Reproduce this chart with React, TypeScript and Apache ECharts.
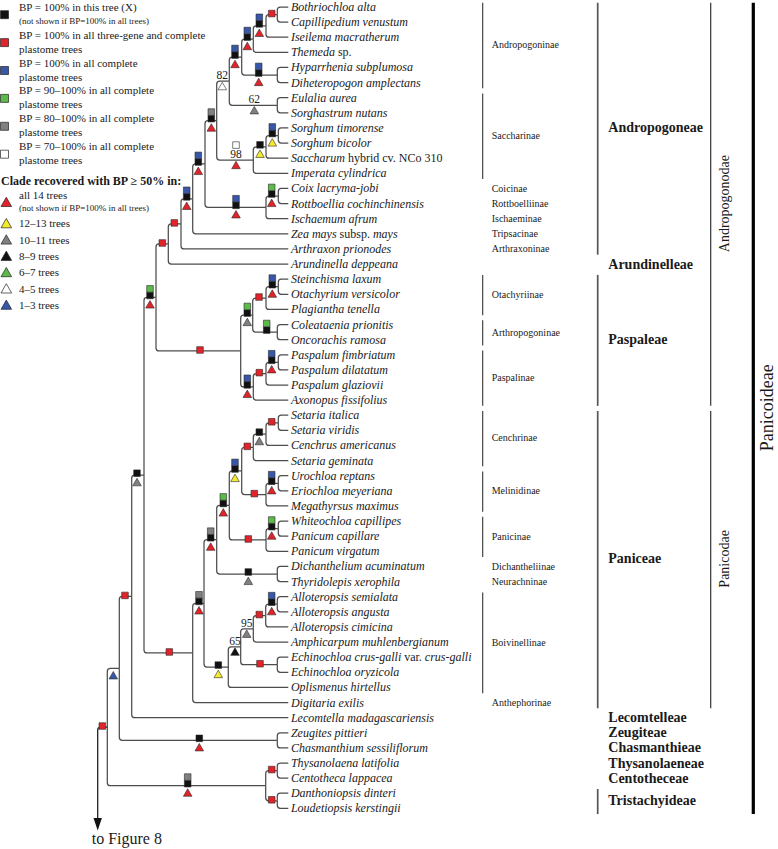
import React, { useEffect, useRef } from 'react';
import * as echarts from 'echarts';

// ---------- data ----------
// leaf names; text between ^ ^ is set upright, the rest italic
const leafNames: string[] = [
  'Bothriochloa alta', 'Capillipedium venustum', 'Iseilema macratherum', 'Themeda ^sp.^',
  'Hyparrhenia subplumosa', 'Diheteropogon amplectans', 'Eulalia aurea', 'Sorghastrum nutans',
  'Sorghum timorense', 'Sorghum bicolor', 'Saccharum ^hybrid cv. NCo 310^', 'Imperata cylindrica',
  'Coix lacryma-jobi', 'Rottboellia cochinchinensis', 'Ischaemum afrum', 'Zea mays ^subsp.^ mays',
  'Arthraxon prionodes', 'Arundinella deppeana', 'Steinchisma laxum', 'Otachyrium versicolor',
  'Plagiantha tenella', 'Coleataenia prionitis', 'Oncorachis ramosa', 'Paspalum fimbriatum',
  'Paspalum dilatatum', 'Paspalum glaziovii', 'Axonopus fissifolius', 'Setaria italica',
  'Setaria viridis', 'Cenchrus americanus', 'Setaria geminata', 'Urochloa reptans',
  'Eriochloa meyeriana', 'Megathyrsus maximus', 'Whiteochloa capillipes', 'Panicum capillare',
  'Panicum virgatum', 'Dichanthelium acuminatum', 'Thyridolepis xerophila', 'Alloteropsis semialata',
  'Alloteropsis angusta', 'Alloteropsis cimicina', 'Amphicarpum muhlenbergianum',
  'Echinochloa crus-galli ^var.^ crus-galli', 'Echinochloa oryzicola', 'Oplismenus hirtellus',
  'Digitaria exilis', 'Lecomtella madagascariensis', 'Zeugites pittieri', 'Chasmanthium sessiliflorum',
  'Thysanolaena latifolia', 'Centotheca lappacea', 'Danthoniopsis dinteri', 'Loudetiopsis kerstingii',
];

type Kid = number | string;
// id, children, node depth (x), marker x on branch, squares (top -> bottom), triangle, BP label
const clades: [string, Kid[], number, number, string, string, string][] = [
  ['BC', [0, 1], 277.3, 271.7, 'R', '', ''],
  ['BCI', ['BC', 2], 266, 259.3, 'BK', 'R', ''],
  ['BCIT', ['BCI', 3], 253.3, 247.3, 'BK', 'R', ''],
  ['HD', [4, 5], 277.3, 258.7, 'BK', 'R', ''],
  ['Andro', ['BCIT', 'HD'], 241.7, 235, 'BK', 'R', ''],
  ['ES', [6, 7], 277.3, 254.3, '', 'A', '62'],
  ['AE', ['Andro', 'ES'], 229.3, 222.3, '', 'W', '82'],
  ['SS', [8, 9], 278.3, 272.3, 'BK', 'Y', ''],
  ['SSS', ['SS', 10], 266, 260, 'K', 'Y', ''],
  ['SSI', ['SSS', 11], 253.3, 236, 'W', 'R', '98'],
  ['AS', ['AE', 'SSI'], 216.7, 211.3, 'AK', 'R', ''],
  ['CR', [12, 13], 278.3, 271.7, 'GK', 'R', ''],
  ['CRI', ['CR', 14], 266, 236, 'BK', 'R', ''],
  ['ASC', ['AS', 'CRI'], 205, 198.3, 'BK', 'R', ''],
  ['Z', ['ASC', 15], 192.7, 186.7, 'BK', 'R', ''],
  ['Ar', ['Z', 16], 181, 174.3, 'R', '', ''],
  ['Aru', ['Ar', 17], 168.3, 162.3, 'R', '', ''],
  ['SO', [18, 19], 278.3, 272.3, 'BK', 'R', ''],
  ['SOP', ['SO', 20], 266, 259, 'R', '', ''],
  ['CO', [21, 22], 277.3, 266.7, 'GK', '', ''],
  ['OA', ['SOP', 'CO'], 252.7, 247.3, 'GK', 'A', ''],
  ['PP', [23, 24], 278.3, 271.7, 'BK', 'R', ''],
  ['PPG', ['PP', 25], 266, 259.3, 'R', '', ''],
  ['PPA', ['PPG', 26], 253.3, 247.3, 'BK', 'R', ''],
  ['Pas', ['OA', 'PPA'], 240.7, 200, 'R', '', ''],
  ['Adae', ['Aru', 'Pas'], 156, 150, 'GK', 'R', ''],
  ['SV', [27, 28], 278.3, 271.7, 'R', '', ''],
  ['SVC', ['SV', 29], 266, 259.3, 'K', 'A', ''],
  ['SVG', ['SVC', 30], 253.3, 247.3, 'R', '', ''],
  ['UE', [31, 32], 278.3, 271.7, 'BK', 'R', ''],
  ['UEM', ['UE', 33], 266, 254.3, 'R', '', ''],
  ['CM', ['SVG', 'UEM'], 241.7, 235, 'BK', 'Y', ''],
  ['WP', [34, 35], 278.3, 271.7, 'GK', 'R', ''],
  ['WPV', ['WP', 36], 266, 248.3, 'R', '', ''],
  ['CMP', ['CM', 'WPV'], 229.3, 223.3, 'GK', 'R', ''],
  ['DT', [37, 38], 277.3, 248.3, 'K', 'A', ''],
  ['CMPD', ['CMP', 'DT'], 216.7, 210.7, 'AK', 'R', ''],
  ['AA', [39, 40], 277.3, 271.7, 'BK', 'R', ''],
  ['AAC', ['AA', 41], 265.7, 259.3, 'R', '', ''],
  ['AACM', ['AAC', 42], 253.3, 246.7, '', 'A', '95'],
  ['EE', [43, 44], 277.3, 260, 'R', '', ''],
  ['AE65', ['AACM', 'EE'], 240.7, 235, '', 'K', '65'],
  ['Boiv', ['AE65', 45], 228.3, 218.3, 'K', 'Y', ''],
  ['Pcore', ['CMPD', 'Boiv'], 204, 199, 'AK', 'R', ''],
  ['Pan', ['Pcore', 46], 192.7, 169.3, 'R', '', ''],
  ['PA', ['Adae', 'Pan'], 144, 137, 'K', 'A', ''],
  ['Lec', ['PA', 47], 131.7, 125, 'R', '', ''],
  ['ZC', [48, 49], 277.3, 199.3, 'K', 'R', ''],
  ['Zeu', ['Lec', 'ZC'], 119.3, 113.3, '', 'B', ''],
  ['TC', [50, 51], 277.3, 271.7, 'R', '', ''],
  ['DL', [52, 53], 277.3, 271.7, 'R', '', ''],
  ['Tris', ['TC', 'DL'], 265.7, 187.7, 'AK', 'R', ''],
  ['root', ['Zeu', 'Tris'], 107.3, 102.3, 'R', '', ''],
];
const tipX = 288.3;
const rootStemX = 97.7;
const rootStemEnd = 54.46; // in leaf units

const subtribes: [string, number, number][] = [
  ['Andropogoninae', 0, 5], ['Saccharinae', 6, 11], ['Coicinae', 12, 12], ['Rottboelliinae', 13, 13],
  ['Ischaeminae', 14, 14], ['Tripsacinae', 15, 15], ['Arthraxoninae', 16, 16],
  ['Otachyriinae', 18, 20], ['Arthropogoninae', 21, 22], ['Paspalinae', 23, 26],
  ['Cenchrinae', 27, 30], ['Melinidinae', 31, 33], ['Panicinae', 34, 36], ['Dichantheliinae', 37, 37],
  ['Neurachninae', 38, 38], ['Boivinellinae', 39, 45], ['Anthephorinae', 46, 46],
];
const tribes: [string, number, number][] = [
  ['Andropogoneae', 0, 16], ['Arundinelleae', 17, 17], ['Paspaleae', 18, 26], ['Paniceae', 27, 46],
  ['Lecomtelleae', 47, 47], ['Zeugiteae', 48, 48], ['Chasmanthieae', 49, 49], ['Thysanolaeneae', 50, 50],
  ['Centotheceae', 51, 51], ['Tristachyideae', 52, 53],
];
const supertribes: [string, number, number][] = [['Andropogonodae', 0, 26], ['Panicodae', 27, 46]];
const subfamilies: [string, number, number][] = [['Panicoideae', 0, 53]];

const squareLegend: [string, string, string, boolean][] = [
  ['K', 'BP = 100% in this tree (X)', '(not shown if BP=100% in all trees)', true],
  ['R', 'BP = 100% in all three-gene and complete', 'plastome trees', false],
  ['B', 'BP = 100% in all complete', 'plastome trees', false],
  ['G', 'BP = 90–100% in all complete', 'plastome trees', false],
  ['A', 'BP = 80–100% in all complete', 'plastome trees', false],
  ['W', 'BP = 70–100% in all complete', 'plastome trees', false],
];
const triangleLegendTitle = 'Clade recovered with BP ≥ 50% in:';
const triangleLegend: [string, string][] = [
  ['R', 'all 14 trees'], ['Y', '12–13 trees'], ['A', '10–11 trees'], ['K', '8–9 trees'],
  ['G', '6–7 trees'], ['W', '4–5 trees'], ['B', '1–3 trees'],
];

// ---------- styles ----------
const SERIF = '"Liberation Serif", "Times New Roman", serif';
const colorOf: Record<string, string> = {
  R: '#e2232a', B: '#3957a8', G: '#5cb94a', A: '#808080', K: '#111111', W: '#ffffff', Y: '#f6ea2c',
};
const LINE = '#4d4d4d';

// ---------- layout ----------
const cladeById = new Map(clades.map((c) => [c[0], c]));
const nodeY: Record<string, number> = {};
function yOf(k: Kid): number {
  if (typeof k === 'number') return k;
  if (nodeY[k] != null) return nodeY[k];
  const c = cladeById.get(k)!;
  const ys = c[1].map(yOf);
  const v = (ys[0] + ys[ys.length - 1]) / 2;
  nodeY[k] = v;
  return v;
}
function xOf(k: Kid): number {
  return typeof k === 'number' ? tipX : cladeById.get(k)![2];
}
const edges: number[][] = [];
clades.forEach((c) => {
  const py = yOf(c[0]);
  c[1].forEach((k) => edges.push([xOf(k), yOf(k), c[2], py]));
});
const rootClade = cladeById.get('root')!;

function richName(name: string) {
  return name
    .split('^')
    .map((p, i) => (p ? `{${i % 2 ? 'r' : 'i'}|${p}}` : ''))
    .join('');
}

function txt(x: number, y: number, text: string, font: string, align = 'left', extra: any = {}) {
  return {
    type: 'text',
    x,
    y,
    ...extra,
    style: {
      text,
      font,
      fill: '#1a1a1a',
      align,
      verticalAlign: 'middle',
      textAlign: align,
      textVerticalAlign: 'middle',
    },
  };
}

function buildLegend() {
  const els: any[] = [];
  squareLegend.forEach((it, k) => {
    els.push({
      type: 'rect',
      shape: { x: 0.5, y: 10.7 + 27.9 * k, width: 8, height: 8 },
      style: { fill: colorOf[it[0]], stroke: '#222', lineWidth: 0.7 },
    });
    els.push(txt(19, 7 + 27.8 * k, it[1], `11px ${SERIF}`));
    els.push(txt(19, 21 + 27.8 * k, it[2], `${it[3] ? 9 : 11}px ${SERIF}`));
  });
  els.push(txt(1, 180.7, triangleLegendTitle, `bold 12px ${SERIF}`));
  triangleLegend.forEach((it, k) => {
    const cy = k === 0 ? 202 : 223.3 + 16.3 * (k - 1);
    els.push({
      type: 'polygon',
      shape: { points: [[6.3, cy - 4.8], [11.6, cy + 4.5], [1, cy + 4.5]] },
      style: { fill: colorOf[it[0]], stroke: '#222', lineWidth: 0.7 },
    });
    els.push(txt(19, k === 0 ? 195 : cy, it[1], `11px ${SERIF}`));
    if (k === 0) els.push(txt(19, 207.7, '(not shown if BP=100% in all trees)', `9px ${SERIF}`));
  });
  return els;
}

function bracketSeries(
  list: [string, number, number][],
  barX: number,
  labelX: number,
  barStyle: any,
  font: string,
  rotated: boolean,
) {
  return {
    type: 'custom',
    coordinateSystem: 'cartesian2d',
    silent: true,
    z: 2,
    data: list.map((s) => [barX, s[1], s[2]]),
    renderItem: (params: any, api: any) => {
      const item = list[params.dataIndex];
      const first = api.value(1);
      const last = api.value(2);
      const els: any[] = [];
      const a = api.coord([barX, first - 0.28]);
      const b = api.coord([barX, last + 0.38]);
      if (last > first || rotated) {
        els.push({ type: 'line', shape: { x1: a[0], y1: a[1], x2: b[0], y2: b[1] }, style: barStyle });
      }
      const m = api.coord([labelX, (first + last) / 2]);
      if (rotated) {
        els.push(txt(m[0], m[1], item[0], font, 'center', { rotation: Math.PI / 2 }));
      } else {
        els.push(txt(m[0], m[1], item[0], font, 'left'));
      }
      return { type: 'group', children: els };
    },
  };
}

function buildOption() {
  return {
    animation: false,
    backgroundColor: '#ffffff',
    grid: { left: 0, right: 0, top: 7, bottom: 849 - 7 - 53 * 15.12 },
    xAxis: { type: 'value', min: 0, max: 778, show: false },
    yAxis: { type: 'value', min: 0, max: 53, inverse: true, show: false },
    graphic: { elements: buildLegend() },
    series: [
      {
        type: 'custom',
        coordinateSystem: 'cartesian2d',
        silent: true,
        z: 1,
        data: edges,
        renderItem: (_p: any, api: any) => {
          const c = api.coord([api.value(0), api.value(1)]);
          const p = api.coord([api.value(2), api.value(3)]);
          const dy = c[1] - p[1];
          const r = Math.min(3, Math.abs(dy));
          let d: string;
          if (r < 0.5) d = `M${p[0]},${c[1]}L${c[0]},${c[1]}`;
          else {
            const s = dy > 0 ? 1 : -1;
            d = `M${p[0]},${p[1]}L${p[0]},${c[1] - s * r}Q${p[0]},${c[1]} ${p[0] + r},${c[1]}L${c[0]},${c[1]}`;
          }
          return { type: 'path', shape: { pathData: d }, style: { stroke: LINE, fill: 'none', lineWidth: 1.25 } };
        },
      },
      {
        type: 'custom',
        coordinateSystem: 'cartesian2d',
        silent: true,
        z: 1,
        data: [[rootClade[2], yOf('root'), rootStemX, rootStemEnd]],
        renderItem: (_p: any, api: any) => {
          const n = api.coord([api.value(0), api.value(1)]);
          const e = api.coord([api.value(2), api.value(3)]);
          const r = 3;
          const d = `M${n[0]},${n[1]}L${e[0] + r},${n[1]}Q${e[0]},${n[1]} ${e[0]},${n[1] + r}L${e[0]},${e[1] - 10}`;
          return {
            type: 'group',
            children: [
              { type: 'path', shape: { pathData: d }, style: { stroke: '#222', fill: 'none', lineWidth: 1.3 } },
              {
                type: 'polygon',
                shape: { points: [[e[0], e[1]], [e[0] - 4.2, e[1] - 12.5], [e[0] + 4.2, e[1] - 12.5]] },
                style: { fill: '#111' },
              },
              txt(e[0] - 6, e[1] + 8.5, 'to Figure 8', `16px ${SERIF}`),
            ],
          };
        },
      },
      {
        type: 'custom',
        coordinateSystem: 'cartesian2d',
        silent: true,
        z: 3,
        data: clades.map((c) => [c[3], yOf(c[0])]),
        renderItem: (params: any, api: any) => {
          const c = clades[params.dataIndex];
          const pt = api.coord([api.value(0), api.value(1)]);
          const x = pt[0];
          const y = pt[1];
          const els: any[] = [];
          const S = 6.6;
          const hasLab = !!c[6];
          if (hasLab) els.push(txt(x, y - 6.2, c[6], `11.5px ${SERIF}`, 'center'));
          const sq = c[4];
          const base = hasLab ? y - 15 : sq.length === 1 && !c[5] ? y - 1 : y - 2;
          for (let j = 0; j < sq.length; j++) {
            const code = sq[sq.length - 1 - j];
            const cy = base - j * S;
            els.push({
              type: 'rect',
              shape: { x: x - S / 2, y: cy - S / 2, width: S, height: S },
              style: { fill: colorOf[code], stroke: '#2a2a2a', lineWidth: 0.6 },
            });
          }
          if (c[5]) {
            const ty = hasLab ? y + 5 : y + 7;
            els.push({
              type: 'polygon',
              shape: { points: [[x, ty - 3.9], [x + 4.3, ty + 3.6], [x - 4.3, ty + 3.6]] },
              style: { fill: colorOf[c[5]], stroke: '#2a2a2a', lineWidth: 0.6 },
            });
          }
          return { type: 'group', children: els };
        },
      },
      {
        type: 'custom',
        coordinateSystem: 'cartesian2d',
        silent: true,
        z: 4,
        data: leafNames.map((_, i) => [tipX, i]),
        renderItem: (params: any, api: any) => {
          const pt = api.coord([api.value(0), api.value(1)]);
          return {
            type: 'text',
            x: pt[0] + 2.6,
            y: pt[1],
            style: {
              text: richName(leafNames[params.dataIndex]),
              align: 'left',
              verticalAlign: 'middle',
              textAlign: 'left',
              textVerticalAlign: 'middle',
              fill: '#1a1a1a',
              rich: {
                i: { fontFamily: SERIF, fontStyle: 'italic', fontSize: 12, fill: '#1a1a1a' },
                r: { fontFamily: SERIF, fontStyle: 'normal', fontSize: 12, fill: '#1a1a1a' },
              },
            },
          };
        },
      },
      bracketSeries(subtribes, 482.7, 491.7, { stroke: '#333', lineWidth: 1.1 }, `10px ${SERIF}`, false),
      bracketSeries(tribes, 597.7, 608.3, { stroke: '#555', lineWidth: 1.7 }, `bold 14px ${SERIF}`, false),
      bracketSeries(supertribes, 710.7, 724.3, { stroke: '#333', lineWidth: 1.2 }, `14px ${SERIF}`, true),
      bracketSeries(subfamilies, 753.3, 766.5, { stroke: '#000', lineWidth: 3.2 }, `18px ${SERIF}`, true),
    ],
  };
}

export default function App() {
  const ref = useRef<HTMLDivElement>(null);
  useEffect(() => {
    if (!ref.current) return;
    const chart = echarts.init(ref.current, null, { renderer: 'svg' });
    chart.setOption(buildOption() as any);
    return () => chart.dispose();
  }, []);
  return (
    <div
      ref={ref}
      style={{ position: 'absolute', left: 0, top: 0, width: 778, height: 849, background: '#fff' }}
    />
  );
}
